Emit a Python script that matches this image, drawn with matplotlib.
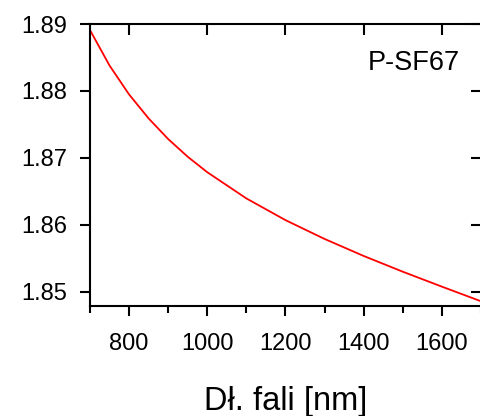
import numpy as np
import matplotlib
matplotlib.use("Agg")
import matplotlib.pyplot as plt
from matplotlib.ticker import MultipleLocator

plt.rcParams['font.family'] = ['Liberation Sans', 'DejaVu Sans']

# refractive index of P-SF67
wavelength = [700, 750, 800, 850, 900, 950, 1000, 1100, 1200, 1300, 1400, 1500, 1600, 1700]
index_n = [1.88909, 1.88380, 1.87948, 1.87590, 1.87282, 1.87018, 1.86787,
           1.86396, 1.86072, 1.85791, 1.85537, 1.85302, 1.85079, 1.84861]
glass = "P-SF67"
x_label = "Dł. fali [nm]"
x_ticks = [800, 1000, 1200, 1400, 1600]
y_ticks = [1.85, 1.86, 1.87, 1.88, 1.89]
y_ticklabels = ["1.85", "1.86", "1.87", "1.88", "1.89"]

fig = plt.figure(figsize=(4.81, 4.16), dpi=100)
ax = fig.add_axes([0.1871, 0.2644, 0.8129, 0.6779])

ax.plot(wavelength, index_n, color='#ff0000', lw=1.3)
ax.set_xlim(700, 1700)
ax.set_ylim(1.8479, 1.89)

ax.set_xticks(x_ticks)
ax.xaxis.set_minor_locator(MultipleLocator(200, offset=100))
ax.set_yticks(y_ticks)
ax.set_yticklabels(y_ticklabels)

for s in ['left', 'bottom', 'top']:
    ax.spines[s].set_linewidth(1.5)
ax.spines['right'].set_visible(False)

ax.tick_params(axis='x', which='major', direction='out', length=7.5, width=1.5,
               labelsize=17, pad=12)
ax.tick_params(axis='x', which='minor', direction='out', length=4.8, width=1.5)
ax.tick_params(axis='y', which='major', direction='out', length=7.5, width=1.5,
               labelsize=17, pad=9)

# top ticks inward (major only), right ticks inward
ax2 = ax.secondary_xaxis('top')
ax2.set_xticks(x_ticks)
ax2.tick_params(direction='in', length=8, width=1.5, labeltop=False)
ax2.spines['top'].set_visible(False)

ax3 = ax.secondary_yaxis('right')
ax3.set_yticks(y_ticks)
ax3.tick_params(direction='in', length=7, width=1.5, labelright=False)
ax3.spines['right'].set_visible(False)

ax.text(0.946, 0.837, glass, transform=ax.transAxes, ha='right', va='baseline',
        fontsize=19.5)
ax.set_xlabel(x_label, fontsize=23.5, labelpad=22)

fig.savefig("out.png", dpi=100)
